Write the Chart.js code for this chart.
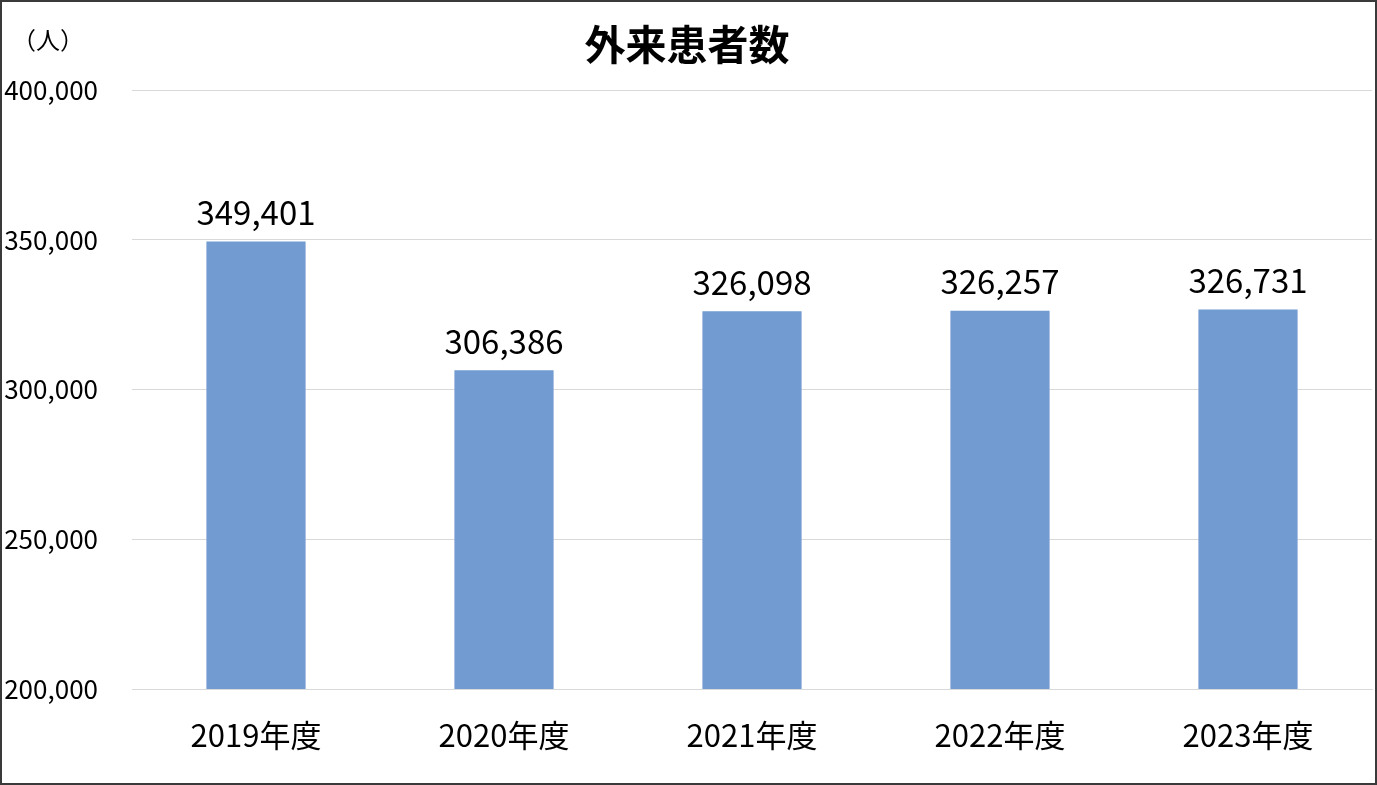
<!DOCTYPE html>
<html>
<head>
<meta charset="utf-8">
<script src="https://cdn.jsdelivr.net/npm/chart.js@4.4.1/dist/chart.umd.min.js"></script>
<style>
html,body{margin:0;padding:0;background:#fff;overflow:hidden;}
#wrap{position:relative;width:1377px;height:785px;}
</style>
</head>
<body>
<div id="wrap"><canvas id="c" width="1377" height="785"></canvas></div>
<script>
const categories = ["2019年度", "2020年度", "2021年度", "2022年度", "2023年度"];
const patients = [349401, 306386, 326098, 326257, 326731];
const yTicks = [200000, 250000, 300000, 350000, 400000];
const chartTitle = "外来患者数";
const unitLabel = "（人）";

const FONT = "'Noto Sans CJK JP', 'Noto Sans', sans-serif";
const fmt = v => v.toLocaleString('en-US');

const decor = {
  id: 'decor',
  afterDraw(chart) {
    const ctx = chart.ctx;
    ctx.save();
    // title
    ctx.fillStyle = '#000';
    ctx.font = "bold 41px " + FONT;
    ctx.textAlign = 'center';
    ctx.textBaseline = 'middle';
    ctx.fillText(chartTitle, 687, 44);
    // unit
    ctx.font = "24px " + FONT;
    ctx.textAlign = 'left';
    ctx.fillText(unitLabel, 12, 40);
    // data labels
    const meta = chart.getDatasetMeta(0);
    ctx.font = "33px " + FONT;
    ctx.textAlign = 'center';
    ctx.textBaseline = 'middle';
    meta.data.forEach((bar, i) => {
      ctx.fillText(fmt(patients[i]), bar.x, bar.y - 29);
    });
    // outer border
    ctx.strokeStyle = '#3a3a3a';
    ctx.lineWidth = 2;
    ctx.strokeRect(1, 1, 1375, 783);
    ctx.restore();
  }
};

new Chart(document.getElementById('c'), {
  type: 'bar',
  data: {
    labels: categories,
    datasets: [{
      data: patients,
      backgroundColor: '#729bd2',
      borderWidth: 0,
      categoryPercentage: 1.0,
      barPercentage: 0.4
    }]
  },
  options: {
    responsive: false,
    animation: false,
    devicePixelRatio: 1,
    layout: { padding: { top: 90, right: 5, bottom: 0, left: 0 } },
    plugins: { legend: { display: false }, title: { display: false }, tooltip: { enabled: false } },
    scales: {
      x: {
        grid: { display: false, drawTicks: false },
        border: { display: true, color: '#d9d9d9', width: 1 },
        ticks: { color: '#000', font: { family: FONT, size: 31 }, padding: 28 },
        afterFit(s) { s.height = 96; }
      },
      y: {
        min: 200000,
        max: 400000,
        afterBuildTicks(s) { s.ticks = yTicks.map(v => ({ value: v })); },
        grid: { color: '#d9d9d9', lineWidth: 1, drawTicks: false },
        border: { display: false },
        ticks: {
          color: '#000',
          font: { family: FONT, size: 26 },
          padding: 34,
          callback: v => fmt(v)
        },
        afterFit(s) { s.width = 132; }
      }
    }
  },
  plugins: [decor]
});
</script>
</body>
</html>
